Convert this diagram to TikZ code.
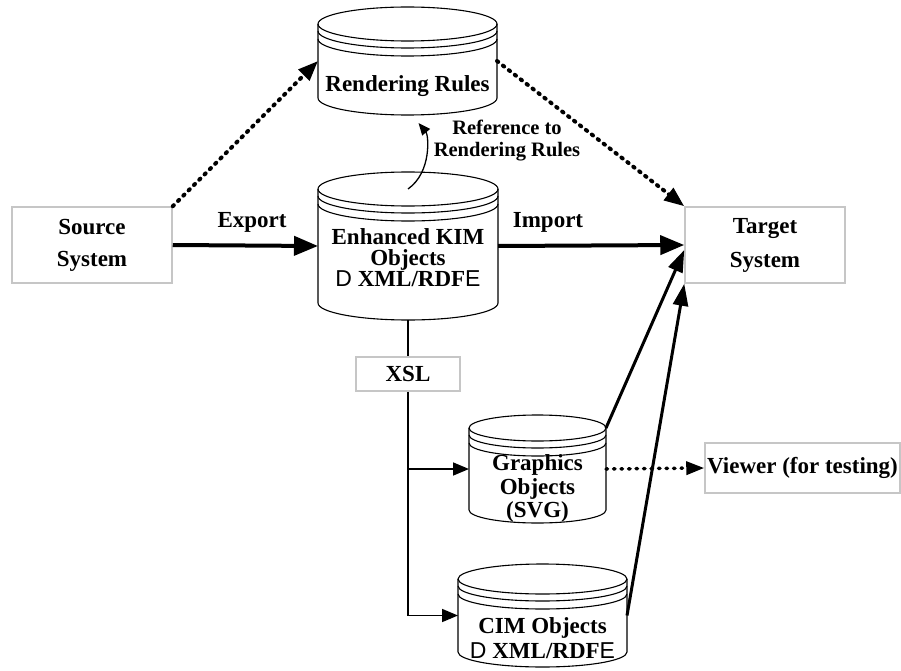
\documentclass[tikz,border=0pt]{standalone}
\usepackage{fontspec}
\setmainfont{Liberation Serif}
\setsansfont{Liberation Sans}
\usetikzlibrary{arrows.meta, calc}
\newcommand{\xmlrdf}{{\sffamily\mdseries D} XML/RDF{\sffamily\mdseries E}}
\newcommand{\tightlines}{\lineskiplimit=-100pt\relax}
\newcommand{\dbcyl}[8]{%
  \draw[dbline] (#2,-#3) ellipse [x radius=#5, y radius=#6];
  \draw[dbline] (#2-#5,-#3) -- (#2-#5,-#4) arc [start angle=180, end angle=360, x radius=#5, y radius=#6] -- (#2+#5,-#3);
  \foreach \gap in {7,15}
    \draw[dbline] (#2-#5,-#3-\gap) arc [start angle=180, end angle=360, x radius=#5, y radius=#6];
  \node[dbbody, minimum width=2*#5, minimum height=#4-#3] (#1) at (#2,{-(#3+#4)/2}) {};
  \node[dbtext] (#1-text) at (#2,-#7) {#8};
}
\tikzset{
  sysbox/.style={draw=gray!45, line width=1.5pt, inner sep=0pt, align=center, font=\fontsize{23}{32}\selectfont\bfseries},
  dbline/.style={line width=1.1pt},
  dbbody/.style={inner sep=0pt, outer sep=0pt},
  dbtext/.style={align=center, inner sep=0pt, font=\fontsize{23}{21}\selectfont\bfseries\tightlines},
  lbl/.style={inner sep=0pt, font=\fontsize{23}{25}\selectfont\bfseries},
  flow/.style={line width=4pt, -{Triangle[length=24pt, width=19pt]}},
  dots/.style={line width=4pt, line cap=round, dash pattern=on 1.5pt off 6pt, -{Triangle[length=20pt, width=15pt]}},
  feed/.style={line width=1.6pt, -{Triangle[length=16pt, width=13pt]}},
  push/.style={line width=3pt, -{Triangle[length=22pt, width=15pt]}}
}

\begin{document}
\begin{tikzpicture}[x=1pt, y=1pt]
    \useasboundingbox (0,0) rectangle (901,-671);

    \node[sysbox, minimum width=160pt, minimum height=76pt] (src) at (92,-245) {Source\\System};
    \node[sysbox, minimum width=160pt, minimum height=76pt, font=\fontsize{23}{34}\selectfont\bfseries] (tgt) at (765,-245) {Target\\System};
    \node[sysbox, minimum width=104pt, minimum height=34pt] (xsl) at (408,-374) {XSL};
    \node[sysbox, minimum width=195pt, minimum height=50pt] (viewer) at (802.5,-468) {Viewer (for testing)};

    \dbcyl{rr}{407.5}{24}{98}{89.5}{17}{86}{Rendering Rules}
    \dbcyl{kim}{408}{189}{303}{90}{17}{258}{Enhanced KIM\\Objects\\\xmlrdf}
    \dbcyl{gfx}{537.5}{428}{510}{68.5}{13}{488}{Graphics\\[3pt]Objects\\[2pt](SVG)}
    \dbcyl{cim}{542.5}{579}{652}{84.5}{15}{638}{CIM Objects\\[4pt]\xmlrdf}

    \draw[flow] (src.east) -- (kim.west);
    \node[lbl] (export) at (252,-222) {Export};
    \draw[flow] (kim.east) -- (tgt.west);
    \node[lbl] (import) at (548,-222) {Import};

    \draw[dots] (src.north east) -- (rr.west);
    \draw[dots] (rr.east) -- (tgt.north west);

    \draw[line width=1.3pt, -{Triangle[length=12pt, width=10pt]}] (kim.north) .. controls +(24,17) and +(10,-12) .. ([shift={(11,-25)}]rr.south);
    \node[lbl, align=center, font=\fontsize{20.5}{22}\selectfont\bfseries] (reflbl) at (507,-141) {Reference to\\Rendering Rules};

    \draw[line width=1.6pt] ([yshift=-17pt]kim.south) -- (xsl.north);
    \draw[feed] (xsl.south) -- (xsl.south |- cim.west) -- (cim.west);
    \draw[feed] (xsl.south |- gfx.west) -- (gfx.west);
    \draw[dots, line width=3.5pt, -{Triangle[length=18pt, width=13pt]}] (gfx.east) -- (viewer.west);

    \draw[push] (gfx.north east) -- ([yshift=-5pt]tgt.west);
    \draw[push] (cim.east) -- (tgt.south west);
\end{tikzpicture}
\end{document}
